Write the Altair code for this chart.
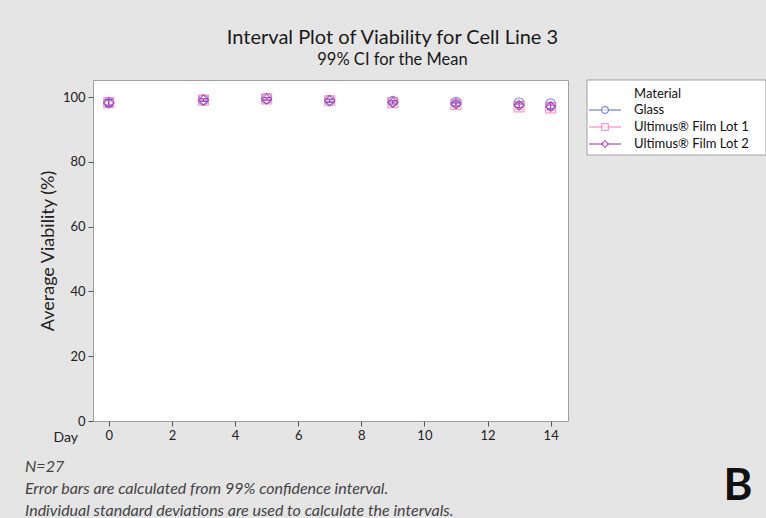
import altair as alt
import pandas as pd

# ---- data ----
days = [0, 3, 5, 7, 9, 11, 13, 14]
materials = ["Glass", "Ultimus® Film Lot 1", "Ultimus® Film Lot 2"]
glass_mean = [98.4, 99.2, 99.6, 99.0, 98.7, 98.4, 98.2, 97.9]
lot1_mean = [98.3, 99.1, 99.5, 98.9, 98.3, 97.8, 97.0, 96.7]
lot2_mean = [98.2, 99.1, 99.4, 98.9, 98.4, 97.9, 97.5, 97.1]
glass_ci = [0.8, 0.3, 0.3, 0.3, 0.3, 0.4, 0.4, 0.5]
lot1_ci = [0.9, 0.4, 0.3, 0.5, 0.5, 0.6, 0.8, 0.8]
lot2_ci = [1.0, 0.4, 0.4, 0.5, 0.5, 0.6, 0.7, 0.8]
x_ticks = [0, 2, 4, 6, 8, 10, 12, 14]
y_ticks = [0, 20, 40, 60, 80, 100]
notes = ["N=27",
         "Error bars are calculated from 99% confidence interval.",
         "Individual standard deviations are used to calculate the intervals."]

colors = ["#5566cc", "#ff72b8", "#9a2bb0"]
shapes = ["circle", "square", "diamond"]

rows = []
for mat, means, cis in zip(materials, [glass_mean, lot1_mean, lot2_mean],
                           [glass_ci, lot1_ci, lot2_ci]):
    for d, m, c in zip(days, means, cis):
        rows.append({"Material": mat, "Day": d, "mean": m, "lo": m - c, "hi": m + c})
df = pd.DataFrame(rows)
leg_df = pd.DataFrame({"Material": materials})
one_df = pd.DataFrame({"k": [0]})

FONT = "Lato"
color_scale = alt.Scale(domain=materials, range=colors)
shape_scale = alt.Scale(domain=materials, range=shapes)

xs = alt.Scale(domain=[-0.5, 14.55], nice=False, zero=False)
ys = alt.Scale(domain=[0, 105.3], nice=False)

base = alt.Chart(df)
x_enc = alt.X("Day:Q", scale=xs, axis=alt.Axis(
    values=x_ticks, title="Day", titleAnchor="start", titleAlign="left",
    titleX=-40, titleY=9, titleBaseline="top", titleFontWeight="normal",
    titleFontSize=14, titleColor="#222", titleFont=FONT))
y_enc = alt.Y("mean:Q", scale=ys, axis=alt.Axis(
    values=y_ticks, title="Average Viability (%)", titleFontSize=18,
    titleFontWeight="normal", titleColor="#222", titlePadding=5, titleFont=FONT))

bars = base.mark_rule(strokeWidth=1).encode(
    x=x_enc, y=alt.Y("lo:Q", scale=ys), y2="hi:Q",
    color=alt.Color("Material:N", scale=color_scale, legend=None))
caps_lo = base.mark_tick(orient="horizontal", size=8, thickness=1).encode(
    x="Day:Q", y=alt.Y("lo:Q", scale=ys),
    color=alt.Color("Material:N", scale=color_scale, legend=None))
caps_hi = base.mark_tick(orient="horizontal", size=8, thickness=1).encode(
    x="Day:Q", y=alt.Y("hi:Q", scale=ys),
    color=alt.Color("Material:N", scale=color_scale, legend=None))
pts = base.mark_point(filled=False, size=100, strokeWidth=1.2).encode(
    x="Day:Q", y=y_enc,
    color=alt.Color("Material:N", scale=color_scale, legend=None),
    shape=alt.Shape("Material:N", scale=shape_scale, legend=None))

main = alt.layer(bars, caps_lo, caps_hi, pts)

# ---- manual legend ----
ly = alt.Y("Material:N", scale=alt.Scale(type="point", domain=materials,
                                          range=[30, 64], padding=0), axis=None)
lbase = alt.Chart(leg_df)
leg_box = alt.Chart(one_df).mark_rect(fill="white", stroke="#a0a0a0", strokeWidth=1).encode(
    x=alt.value(494), x2=alt.value(673), y=alt.value(0), y2=alt.value(75))
leg_title = alt.Chart(one_df).mark_text(align="left", baseline="middle", font=FONT,
                                        fontSize=13, color="#111", text="Material").encode(
    x=alt.value(541), y=alt.value(14))
leg_lines = lbase.mark_rule(strokeWidth=1).encode(
    x=alt.value(496), x2=alt.value(528), y=ly,
    color=alt.Color("Material:N", scale=color_scale, legend=None))
leg_pts = lbase.mark_point(filled=False, size=45, strokeWidth=1.2).encode(
    x=alt.value(512), y=ly,
    fill=alt.value("white"), fillOpacity=alt.value(1),
    stroke=alt.Stroke("Material:N", scale=color_scale, legend=None),
    shape=alt.Shape("Material:N", scale=shape_scale, legend=None))
leg_labels = lbase.mark_text(align="left", baseline="middle", font=FONT,
                             fontSize=13, color="#111").encode(
    x=alt.value(541), y=ly, text="Material:N")
legend = alt.layer(leg_box, leg_title, leg_lines, leg_pts, leg_labels)

# ---- footnotes and panel letter ----
foot = alt.Chart(one_df).mark_text(
    align="left", baseline="middle", font=FONT, fontSize=16, fontStyle="italic",
    color="#444", lineHeight=22).encode(
    x=alt.value(-68), y=alt.value(387), text=alt.value(notes))
letter = alt.Chart(one_df).mark_text(
    align="center", baseline="alphabetic", font=FONT, fontSize=44,
    fontWeight="bold", color="#111", text="B").encode(
    x=alt.value(645), y=alt.value(420))

chart = alt.layer(main, legend, foot, letter).resolve_scale(y="independent").properties(
    width=475, height=341,
    autosize=alt.AutoSizeParams(type="none"),
    padding={"left": 93, "top": 80, "right": 198, "bottom": 97},
    title=alt.TitleParams(
        "Interval Plot of Viability for Cell Line 3",
        subtitle="99% CI for the Mean", font=FONT, subtitleFont=FONT,
        fontSize=20, subtitleFontSize=16.5, fontWeight="normal",
        color="#1a1a1a", subtitleColor="#1a1a1a", anchor="middle",
        dx=62, offset=11, subtitlePadding=4),
).configure(background="#e5e5e5").configure_view(
    fill="white", stroke="#a0a0a0", strokeWidth=1
).configure_axis(
    domain=False, grid=False, tickColor="#555", tickSize=5,
    labelColor="#222", labelFont=FONT, labelFontSize=13, labelPadding=3
)

chart.save("out.html", embed_options={"renderer": "svg", "actions": False})
